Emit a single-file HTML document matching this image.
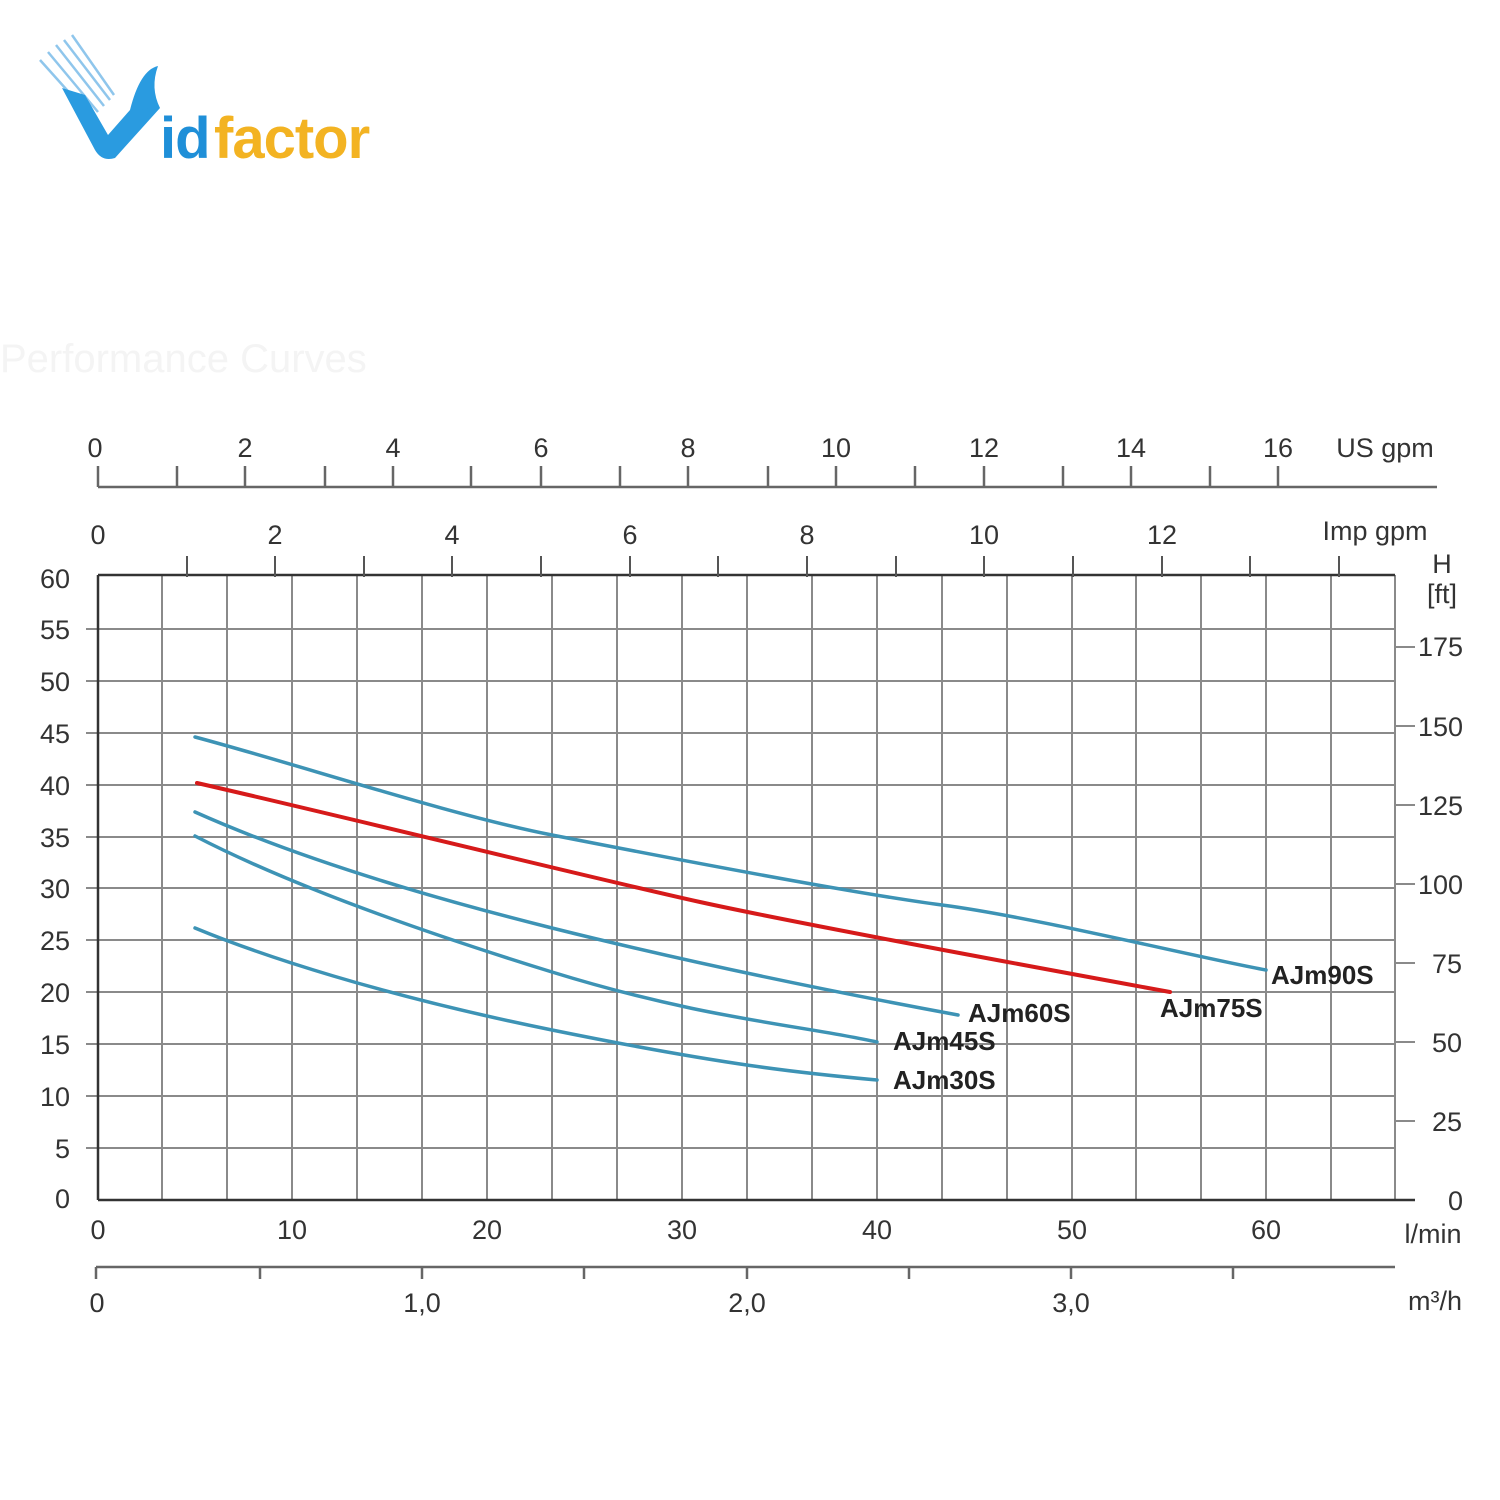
<!DOCTYPE html>
<html><head><meta charset="utf-8"><style>
html,body{margin:0;padding:0;background:#fff;}
svg{display:block;font-family:"Liberation Sans",sans-serif;}
</style></head><body>
<svg width="1500" height="1500" viewBox="0 0 1500 1500" xmlns="http://www.w3.org/2000/svg">
<!-- logo -->
<g>
  <g stroke="#8fc6ec" stroke-width="2.5">
    <line x1="40" y1="60" x2="92" y2="118"/><line x1="48" y1="52" x2="98" y2="112"/>
    <line x1="56" y1="45" x2="104" y2="106"/><line x1="64" y1="40" x2="110" y2="100"/>
    <line x1="72" y1="35" x2="114" y2="95"/>
  </g>
  <path d="M62 88 L95 150 Q102 162 115 158 L160 108 Q148 98 130 110 L108 135 L85 95 Z" fill="#2a9be0"/>
  <path d="M130 110 Q140 70 158 66 Q150 88 160 108 Z" fill="#2a9be0"/>
  <text x="160" y="158" font-size="58" fill="#1f8fd8" font-weight="bold" letter-spacing="-1">id</text>
  <text x="214" y="158" font-size="58" fill="#f3b322" font-weight="bold" letter-spacing="-1">factor</text>
</g>
<text x="0" y="372" font-size="40" fill="#f4f4f4">Performance Curves</text>

<!-- grid -->
<g stroke="#8a8a8a" stroke-width="2">
  <line x1="162" y1="575" x2="162" y2="1200"/><line x1="227" y1="575" x2="227" y2="1200"/>
  <line x1="292" y1="575" x2="292" y2="1200"/><line x1="357" y1="575" x2="357" y2="1200"/>
  <line x1="422" y1="575" x2="422" y2="1200"/><line x1="487" y1="575" x2="487" y2="1200"/>
  <line x1="552" y1="575" x2="552" y2="1200"/><line x1="617" y1="575" x2="617" y2="1200"/>
  <line x1="682" y1="575" x2="682" y2="1200"/><line x1="747" y1="575" x2="747" y2="1200"/>
  <line x1="812" y1="575" x2="812" y2="1200"/><line x1="877" y1="575" x2="877" y2="1200"/>
  <line x1="942" y1="575" x2="942" y2="1200"/><line x1="1007" y1="575" x2="1007" y2="1200"/>
  <line x1="1072" y1="575" x2="1072" y2="1200"/><line x1="1136" y1="575" x2="1136" y2="1200"/>
  <line x1="1201" y1="575" x2="1201" y2="1200"/><line x1="1266" y1="575" x2="1266" y2="1200"/>
  <line x1="1331" y1="575" x2="1331" y2="1200"/><line x1="1395" y1="575" x2="1395" y2="1200"/>
  <line x1="86" y1="629" x2="1395" y2="629"/><line x1="86" y1="681" x2="1395" y2="681"/>
  <line x1="86" y1="733" x2="1395" y2="733"/><line x1="86" y1="785" x2="1395" y2="785"/>
  <line x1="86" y1="837" x2="1395" y2="837"/><line x1="86" y1="888" x2="1395" y2="888"/>
  <line x1="86" y1="940" x2="1395" y2="940"/><line x1="86" y1="992" x2="1395" y2="992"/>
  <line x1="86" y1="1044" x2="1395" y2="1044"/><line x1="86" y1="1096" x2="1395" y2="1096"/>
  <line x1="86" y1="1148" x2="1395" y2="1148"/>
  <line x1="1395" y1="1121" x2="1415" y2="1121"/><line x1="1395" y1="1042" x2="1415" y2="1042"/>
  <line x1="1395" y1="963" x2="1415" y2="963"/><line x1="1395" y1="884" x2="1415" y2="884"/>
  <line x1="1395" y1="805" x2="1415" y2="805"/><line x1="1395" y1="726" x2="1415" y2="726"/>
  <line x1="1395" y1="647" x2="1415" y2="647"/>
</g>
<g stroke="#333" stroke-width="2.5" fill="none">
  <line x1="98" y1="575" x2="1395" y2="575"/>
  <line x1="98" y1="575" x2="98" y2="1200"/>
  <line x1="98" y1="1200" x2="1415" y2="1200"/>
</g>
<g stroke="#555" stroke-width="2">
  <line x1="187" y1="556" x2="187" y2="577"/><line x1="275" y1="556" x2="275" y2="577"/>
  <line x1="364" y1="556" x2="364" y2="577"/><line x1="452" y1="556" x2="452" y2="577"/>
  <line x1="541" y1="556" x2="541" y2="577"/><line x1="630" y1="556" x2="630" y2="577"/>
  <line x1="718" y1="556" x2="718" y2="577"/><line x1="807" y1="556" x2="807" y2="577"/>
  <line x1="896" y1="556" x2="896" y2="577"/><line x1="984" y1="556" x2="984" y2="577"/>
  <line x1="1073" y1="556" x2="1073" y2="577"/><line x1="1162" y1="556" x2="1162" y2="577"/>
  <line x1="1250" y1="556" x2="1250" y2="577"/><line x1="1339" y1="556" x2="1339" y2="577"/>
</g>
<g stroke="#666" stroke-width="2.5">
  <line x1="98" y1="487" x2="1437" y2="487"/>
  <line x1="98" y1="466" x2="98" y2="487"/><line x1="177" y1="466" x2="177" y2="487"/>
  <line x1="245" y1="466" x2="245" y2="487"/><line x1="325" y1="466" x2="325" y2="487"/>
  <line x1="393" y1="466" x2="393" y2="487"/><line x1="471" y1="466" x2="471" y2="487"/>
  <line x1="541" y1="466" x2="541" y2="487"/><line x1="620" y1="466" x2="620" y2="487"/>
  <line x1="688" y1="466" x2="688" y2="487"/><line x1="768" y1="466" x2="768" y2="487"/>
  <line x1="836" y1="466" x2="836" y2="487"/><line x1="915" y1="466" x2="915" y2="487"/>
  <line x1="984" y1="466" x2="984" y2="487"/><line x1="1063" y1="466" x2="1063" y2="487"/>
  <line x1="1131" y1="466" x2="1131" y2="487"/><line x1="1210" y1="466" x2="1210" y2="487"/>
  <line x1="1278" y1="466" x2="1278" y2="487"/>
</g>
<g stroke="#666" stroke-width="2.5">
  <line x1="96" y1="1267" x2="1395" y2="1267"/>
  <line x1="96" y1="1267" x2="96" y2="1279"/><line x1="260" y1="1267" x2="260" y2="1279"/>
  <line x1="422" y1="1267" x2="422" y2="1279"/><line x1="584" y1="1267" x2="584" y2="1279"/>
  <line x1="747" y1="1267" x2="747" y2="1279"/><line x1="909" y1="1267" x2="909" y2="1279"/>
  <line x1="1071" y1="1267" x2="1071" y2="1279"/><line x1="1233" y1="1267" x2="1233" y2="1279"/>
</g>
<g font-size="27" fill="#333" text-anchor="middle">
  <text x="95" y="457">0</text><text x="245" y="457">2</text><text x="393" y="457">4</text>
  <text x="541" y="457">6</text><text x="688" y="457">8</text><text x="836" y="457">10</text>
  <text x="984" y="457">12</text><text x="1131" y="457">14</text><text x="1278" y="457">16</text>
  <text x="1385" y="457">US gpm</text>
  <text x="98" y="544">0</text><text x="275" y="544">2</text><text x="452" y="544">4</text>
  <text x="630" y="544">6</text><text x="807" y="544">8</text><text x="984" y="544">10</text>
  <text x="1162" y="544">12</text>
  <text x="1375" y="540">Imp gpm</text>
  <text x="1442" y="573">H</text><text x="1442" y="603">[ft]</text>
  <text x="98" y="1239">0</text><text x="292" y="1239">10</text><text x="487" y="1239">20</text>
  <text x="682" y="1239">30</text><text x="877" y="1239">40</text><text x="1072" y="1239">50</text>
  <text x="1266" y="1239">60</text>
  <text x="1433" y="1243">l/min</text>
  <text x="97" y="1312">0</text><text x="422" y="1312">1,0</text><text x="747" y="1312">2,0</text>
  <text x="1071" y="1312">3,0</text>
  <text x="1435" y="1310">m³/h</text>
</g>
<g font-size="27" fill="#333" text-anchor="end">
  <text x="70" y="588">60</text><text x="70" y="639">55</text><text x="70" y="691">50</text>
  <text x="70" y="743">45</text><text x="70" y="795">40</text><text x="70" y="847">35</text>
  <text x="70" y="898">30</text><text x="70" y="950">25</text><text x="70" y="1002">20</text>
  <text x="70" y="1054">15</text><text x="70" y="1106">10</text><text x="70" y="1158">5</text>
  <text x="70" y="1208">0</text>
</g>
<g font-size="27" fill="#333" text-anchor="start">
  <text x="1418" y="656">175</text><text x="1418" y="736">150</text><text x="1418" y="815">125</text>
  <text x="1418" y="894">100</text><text x="1432" y="973">75</text><text x="1432" y="1052">50</text>
  <text x="1432" y="1131">25</text><text x="1448" y="1210">0</text>
</g>
<g fill="none" stroke-width="3.5" stroke-linecap="round">
  <path d="M195 737 C300 765 450 815 552 835 S850 893 942 905 S1200 958 1266 970" stroke="#3d93b5"/>
  <path d="M197 783 C350 818 600 880 700 902 S1050 970 1170 992" stroke="#d61a1a" stroke-width="4"/>
  <path d="M195 812 C280 850 400 890 552 928 S850 995 958 1015" stroke="#3d93b5"/>
  <path d="M195 836 C280 880 400 925 552 972 S800 1025 877 1042" stroke="#3d93b5"/>
  <path d="M195 928 C260 955 380 995 552 1030 S800 1073 877 1080" stroke="#3d93b5"/>
</g>
<g font-size="26" font-weight="bold" fill="#222">
  <text x="1271" y="984">AJm90S</text>
  <text x="1160" y="1017">AJm75S</text>
  <text x="968" y="1022">AJm60S</text>
  <text x="893" y="1050">AJm45S</text>
  <text x="893" y="1089">AJm30S</text>
</g>
</svg>
</body></html>
